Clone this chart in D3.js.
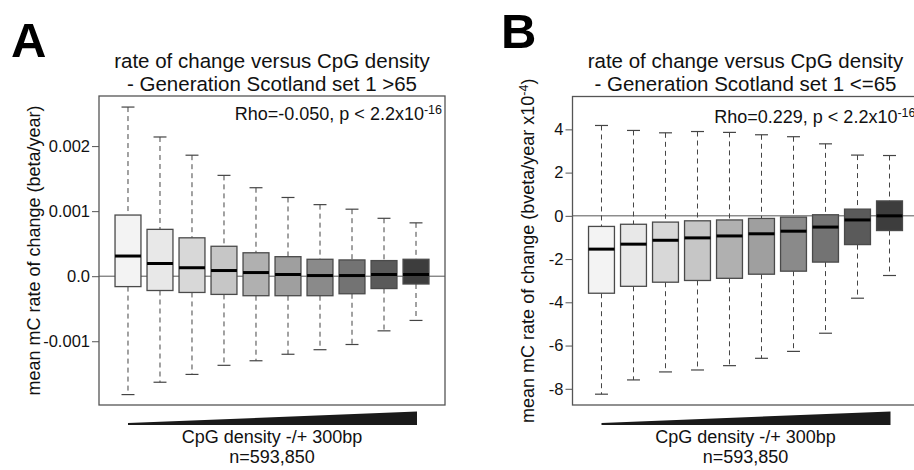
<!DOCTYPE html>
<html>
<head>
<meta charset="utf-8">
<script src="https://cdn.jsdelivr.net/npm/d3@7"></script>
<style>
  html, body { margin: 0; padding: 0; background: #fff; }
  svg text { font-family: "Liberation Sans", Arial, Helvetica, sans-serif; fill: #111; }
</style>
</head>
<body>
<svg id="chart" width="914" height="470"></svg>
<script>
// ---- data ----
const categories = ["1","2","3","4","5","6","7","8","9","10"];

// Panel A (beta/year)
const aWhiskerHigh = [0.00260, 0.00214, 0.00186, 0.00155, 0.00136, 0.00121, 0.00110, 0.00103, 0.00089, 0.00082];
const aQ3          = [0.00094, 0.00072, 0.00059, 0.00046, 0.00036, 0.00030, 0.00026, 0.00025, 0.00024, 0.00026];
const aMedian      = [0.00031, 0.000195, 0.00013, 0.000087, 0.000056, 0.000026, 0.00001, 0.00001, 0.000026, 0.000026];
const aQ1          = [-0.00016, -0.00022, -0.00025, -0.00028, -0.00030, -0.00030, -0.00030, -0.00027, -0.00019, -0.00012];
const aWhiskerLow  = [-0.00182, -0.00163, -0.00151, -0.00137, -0.00130, -0.00120, -0.00113, -0.00105, -0.00084, -0.00068];
const aTicks = [-0.001, 0, 0.001, 0.002];
const aTickLabels = ["-0.001", "0.0", "0.001", "0.002"];

// Panel B (beta/year x10^-4)
const bWhiskerHigh = [4.18, 3.95, 3.84, 3.90, 3.86, 3.75, 3.66, 3.33, 2.81, 2.79];
const bQ3          = [-0.49, -0.39, -0.29, -0.23, -0.19, -0.12, -0.06, 0.05, 0.31, 0.69];
const bMedian      = [-1.54, -1.31, -1.13, -1.02, -0.93, -0.83, -0.71, -0.52, -0.19, 0.00];
const bQ1          = [-3.58, -3.26, -3.07, -2.99, -2.89, -2.70, -2.56, -2.14, -1.33, -0.68];
const bWhiskerLow  = [-8.25, -7.59, -7.22, -7.13, -6.93, -6.59, -6.27, -5.43, -3.81, -2.76];
const bTicks = [-8, -6, -4, -2, 0, 2, 4];
const bTickLabels = ["-8", "-6", "-4", "-2", "0", "2", "4"];

const boxFills = ["#f3f3f3", "#e8e8e8", "#d8d8d8", "#c6c6c6", "#b0b0b0", "#9f9f9f", "#8a8a8a", "#737373", "#5a5a5a", "#3d3d3d"];

const panels = [
  {
    letter: "A", letterX: 11, letterY: 57,
    left: 99, right: 445, top: 96, bottom: 405,
    domain: [-0.00198, 0.00277],
    hi: aWhiskerHigh, q3: aQ3, med: aMedian, q1: aQ1, lo: aWhiskerLow,
    ticks: aTicks, tickLabels: aTickLabels,
    title1: "rate of change versus CpG density",
    title2: "- Generation Scotland set 1 >65",
    rho: "Rho=-0.050, p < 2.2x10", rhoY: 120,
    ylab: "mean mC rate of change (beta/year)", ylabSup: null, ylabX: 34
  },
  {
    letter: "B", letterX: 501, letterY: 48,
    left: 572.5, right: 918.5, top: 96.5, bottom: 405,
    domain: [-8.75, 5.52],
    hi: bWhiskerHigh, q3: bQ3, med: bMedian, q1: bQ1, lo: bWhiskerLow,
    ticks: bTicks, tickLabels: bTickLabels,
    title1: "rate of change versus CpG density",
    title2: "- Generation Scotland set 1 <=65",
    rho: "Rho=0.229, p < 2.2x10", rhoY: 123,
    ylab: "mean mC rate of change (bveta/year x10", ylabSup: "-4", ylabX: 528
  }
];

const svg = d3.select("#chart");

panels.forEach(p => {
  const g = svg.append("g");
  const x = d3.scaleBand().domain(categories).range([p.left, p.right])
    .paddingInner(0).paddingOuter(0.406);
  const y = d3.scaleLinear().domain(p.domain).range([p.bottom, p.top]);
  const bw = x.bandwidth() * 0.81;
  const cx = c => x(c) + x.bandwidth() / 2;
  const cx0 = (p.left + p.right) / 2;

  // panel letter
  g.append("text").attr("x", p.letterX).attr("y", p.letterY)
    .style("font-size", "49px").style("font-weight", "bold").style("fill", "#000")
    .text(p.letter);

  // title
  g.append("text").attr("x", cx0).attr("y", 68).attr("text-anchor", "middle")
    .style("font-size", "20.5px").text(p.title1);
  g.append("text").attr("x", cx0).attr("y", 91).attr("text-anchor", "middle")
    .style("font-size", "20.5px").text(p.title2);

  // zero line
  g.append("line").attr("x1", p.left).attr("x2", p.right)
    .attr("y1", y(0)).attr("y2", y(0))
    .attr("stroke", "#555").attr("stroke-width", 1);

  // y axis
  const axis = d3.axisLeft(y).tickValues(p.ticks)
    .tickFormat((d, i) => p.tickLabels[i]).tickSize(7).tickPadding(2);
  const ag = g.append("g").attr("transform", `translate(${p.left},0)`).call(axis);
  ag.select(".domain").remove();
  ag.selectAll(".tick line").attr("stroke", "#555");
  ag.selectAll(".tick text").style("font-size", "16.5px")
    .style("font-family", "'Liberation Sans', Arial, sans-serif").attr("fill", "#111");

  // whiskers
  const idx = d3.range(categories.length);
  g.selectAll(".wh-up").data(idx).join("line")
    .attr("x1", i => cx(categories[i])).attr("x2", i => cx(categories[i]))
    .attr("y1", i => y(p.hi[i])).attr("y2", i => y(p.q3[i]))
    .attr("stroke", "#444").attr("stroke-width", 1).attr("stroke-dasharray", "5,4");
  g.selectAll(".wh-dn").data(idx).join("line")
    .attr("x1", i => cx(categories[i])).attr("x2", i => cx(categories[i]))
    .attr("y1", i => y(p.q1[i])).attr("y2", i => y(p.lo[i]))
    .attr("stroke", "#444").attr("stroke-width", 1).attr("stroke-dasharray", "5,4");
  // caps
  [p.hi, p.lo].forEach(arr => {
    g.selectAll(null).data(idx).join("line")
      .attr("x1", i => cx(categories[i]) - bw / 4).attr("x2", i => cx(categories[i]) + bw / 4)
      .attr("y1", i => y(arr[i])).attr("y2", i => y(arr[i]))
      .attr("stroke", "#444").attr("stroke-width", 1.2);
  });
  // boxes
  g.selectAll(null).data(idx).join("rect")
    .attr("x", i => cx(categories[i]) - bw / 2)
    .attr("width", bw)
    .attr("y", i => y(p.q3[i]))
    .attr("height", i => y(p.q1[i]) - y(p.q3[i]))
    .attr("fill", i => boxFills[i])
    .attr("stroke", "#4a4a4a").attr("stroke-width", 1.3);
  // medians
  g.selectAll(null).data(idx).join("line")
    .attr("x1", i => cx(categories[i]) - bw / 2).attr("x2", i => cx(categories[i]) + bw / 2)
    .attr("y1", i => y(p.med[i])).attr("y2", i => y(p.med[i]))
    .attr("stroke", "#000").attr("stroke-width", 3);

  // plot frame
  g.append("rect").attr("x", p.left).attr("y", p.top)
    .attr("width", p.right - p.left).attr("height", p.bottom - p.top)
    .attr("fill", "none").attr("stroke", "#555").attr("stroke-width", 1.3);

  // rho annotation
  const rt = g.append("text").attr("x", p.right - 3).attr("y", p.rhoY)
    .attr("text-anchor", "end").style("font-size", "18px");
  rt.append("tspan").text(p.rho);
  rt.append("tspan").attr("dy", -6).style("font-size", "12.5px").text("-16");

  // y label
  const yl = g.append("text")
    .attr("transform", `translate(${p.ylabX},${(p.top + p.bottom) / 2}) rotate(-90)`)
    .attr("text-anchor", "middle").attr("dy", "0.35em").style("font-size", "18px");
  yl.append("tspan").text(p.ylab);
  if (p.ylabSup) {
    yl.append("tspan").attr("dy", -6).style("font-size", "12.5px").text(p.ylabSup);
    yl.append("tspan").attr("dy", 6).text(")");
  }

  // density wedge
  const xa = cx(categories[0]), xb = cx(categories[categories.length - 1]) + 1;
  g.append("path")
    .attr("d", `M${xa},423 L${xb},411.5 L${xb},425 L${xa},425 Z`)
    .attr("fill", "#1a1a1a");

  // x labels
  g.append("text").attr("x", cx0).attr("y", 443).attr("text-anchor", "middle")
    .style("font-size", "18px").text("CpG density -/+ 300bp");
  g.append("text").attr("x", cx0).attr("y", 463).attr("text-anchor", "middle")
    .style("font-size", "18px").text("n=593,850");
});
</script>
</body>
</html>
